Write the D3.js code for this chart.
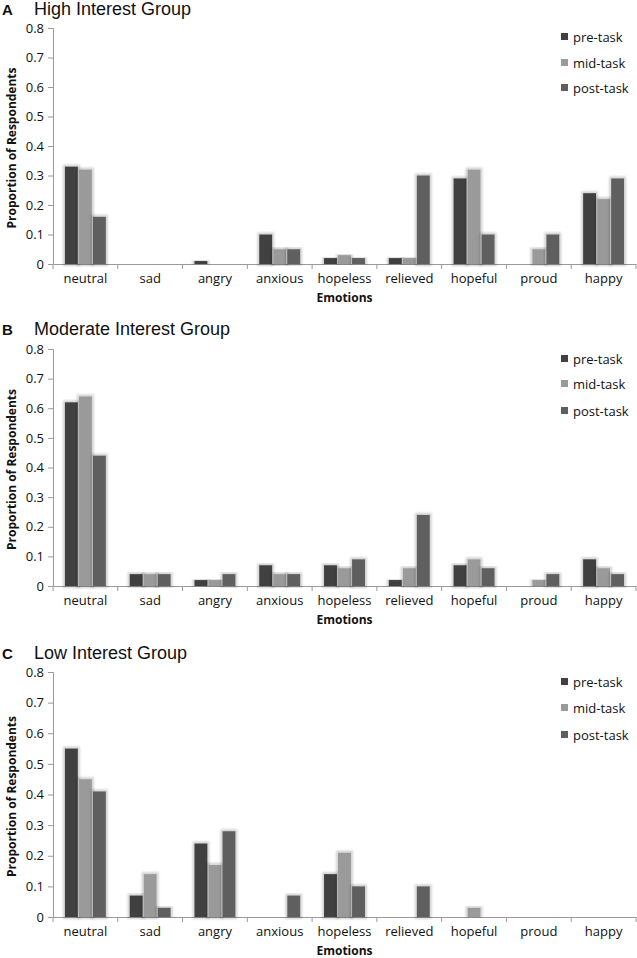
<!DOCTYPE html>
<html>
<head>
<meta charset="utf-8">
<script src="https://cdn.jsdelivr.net/npm/d3@7"></script>
<style>
  body { margin: 0; background: #fff; }
  svg { display: block; }
</style>
</head>
<body>
<svg width="637" height="958"></svg>
<script>
const emotions = ['neutral', 'sad', 'angry', 'anxious', 'hopeless', 'relieved', 'hopeful', 'proud', 'happy']
const phases = ['pre-task', 'mid-task', 'post-task']
const yTicks = [0, 0.1, 0.2, 0.3, 0.4, 0.5, 0.6, 0.7, 0.8]

// values per emotion: [pre, mid, post]
const highInterest = [
  [0.33, 0.32, 0.16], [0, 0, 0], [0.01, 0, 0], [0.10, 0.05, 0.05], [0.02, 0.03, 0.02],
  [0.02, 0.02, 0.30], [0.29, 0.32, 0.10], [0, 0.05, 0.10], [0.24, 0.22, 0.29]
]
const moderateInterest = [
  [0.62, 0.64, 0.44], [0.04, 0.04, 0.04], [0.02, 0.02, 0.04], [0.07, 0.04, 0.04], [0.07, 0.06, 0.09],
  [0.02, 0.06, 0.24], [0.07, 0.09, 0.06], [0, 0.02, 0.04], [0.09, 0.06, 0.04]
]
const lowInterest = [
  [0.55, 0.45, 0.41], [0.07, 0.14, 0.03], [0.24, 0.17, 0.28], [0, 0, 0.07], [0.14, 0.21, 0.10],
  [0, 0, 0.10], [0, 0.03, 0], [0, 0, 0], [0, 0, 0]
]

const colors = ['#404040', '#9a9a9a', '#5e5e5e']

const svg = d3.select('svg')

const defs = svg.append('defs')
const shadow = defs.append('filter').attr('id', 'halo')
  .attr('x', '-30%').attr('y', '-10%').attr('width', '160%').attr('height', '120%')
shadow.append('feMorphology').attr('in', 'SourceAlpha').attr('operator', 'dilate').attr('radius', 1.5).attr('result', 'd')
shadow.append('feGaussianBlur').attr('in', 'd').attr('stdDeviation', 0.8).attr('result', 'b')
shadow.append('feComponentTransfer').attr('in', 'b').attr('result', 's')
  .append('feFuncA').attr('type', 'linear').attr('slope', 0.18)
const merge = shadow.append('feMerge')
merge.append('feMergeNode').attr('in', 's')
merge.append('feMergeNode').attr('in', 'SourceGraphic')

const x0 = 53, x1 = 636

const panels = [
  { letter: 'A', title: 'High Interest Group', data: highInterest, titleY: 15, top: 28, bottom: 264, legendY: [37, 63, 88] },
  { letter: 'B', title: 'Moderate Interest Group', data: moderateInterest, titleY: 335, top: 349, bottom: 586, legendY: [359, 384, 411] },
  { letter: 'C', title: 'Low Interest Group', data: lowInterest, titleY: 659, top: 672, bottom: 917, legendY: [682, 708, 735] }
]

panels.forEach(p => {
  const g = svg.append('g')

  const x = d3.scaleBand().domain(emotions).range([x0, x1]).paddingInner(0).paddingOuter(0)
  const xs = d3.scaleBand().domain(phases).range([0, x.bandwidth()]).paddingInner(0.08).paddingOuter(0.85)
  const y = d3.scaleLinear().domain([0, 0.8]).range([p.bottom, p.top])

  // title
  g.append('text').attr('x', 2).attr('y', p.titleY)
    .attr('font-family', 'Liberation Sans, Arial, sans-serif').attr('font-weight', 'bold')
    .attr('font-size', 15).attr('fill', '#111').text(p.letter)
  g.append('text').attr('x', 34).attr('y', p.titleY)
    .attr('font-family', 'Liberation Sans, Arial, sans-serif')
    .attr('font-size', 18).attr('fill', '#111').text(p.title)

  // y axis
  const yAxis = g.append('g').attr('transform', `translate(${x0},0)`)
    .call(d3.axisLeft(y).tickValues(yTicks).tickSize(5).tickFormat(d => d === 0 ? '0' : d3.format('.1f')(d)))
  yAxis.select('.domain').attr('stroke', '#9a9a9a')
  yAxis.selectAll('.tick line').attr('stroke', '#9a9a9a')
  yAxis.selectAll('.tick text').attr('x', -9)
    .attr('font-family', 'Open Sans, sans-serif').attr('font-size', 13).attr('fill', '#111')

  // x axis
  const xAxis = g.append('g').attr('transform', `translate(0,${p.bottom})`)
    .call(d3.axisBottom(x).tickSize(0).tickPadding(10))
  xAxis.select('.domain').attr('stroke', '#9a9a9a')
  xAxis.selectAll('.tick text')
    .attr('font-family', 'Open Sans, sans-serif').attr('font-size', 13).attr('fill', '#111')
  // category boundary ticks
  g.append('g').selectAll('line')
    .data(emotions.concat(['end']))
    .join('line')
    .attr('x1', (d, i) => i < emotions.length ? x(d) : x1)
    .attr('x2', (d, i) => i < emotions.length ? x(d) : x1)
    .attr('y1', p.bottom).attr('y2', p.bottom + 5)
    .attr('stroke', '#9a9a9a')

  // axis titles
  g.append('text').attr('x', (x0 + x1) / 2).attr('y', p.bottom + 38)
    .attr('text-anchor', 'middle')
    .attr('font-family', 'Open Sans, sans-serif').attr('font-weight', 'bold')
    .attr('font-size', 12).attr('fill', '#111').text('Emotions')
  g.append('text')
    .attr('transform', `translate(16,${(p.top + p.bottom) / 2 + 2}) rotate(-90)`)
    .attr('text-anchor', 'middle')
    .attr('font-family', 'Open Sans, sans-serif').attr('font-weight', 'bold')
    .attr('font-size', 12).attr('fill', '#111').text('Proportion of Respondents')

  // bars
  const groups = g.append('g').selectAll('g')
    .data(p.data)
    .join('g')
    .attr('transform', (d, i) => `translate(${x(emotions[i])},0)`)
  groups.selectAll('rect')
    .data(d => d.map((v, j) => ({ phase: phases[j], v })).filter(e => e.v > 0))
    .join('rect')
    .attr('x', d => xs(d.phase))
    .attr('width', xs.bandwidth())
    .attr('y', d => y(d.v))
    .attr('height', d => y(0) - y(d.v))
    .attr('fill', d => colors[phases.indexOf(d.phase)])
    .attr('filter', 'url(#halo)')

  // legend
  const leg = g.append('g').selectAll('g')
    .data(phases)
    .join('g')
    .attr('transform', (d, i) => `translate(561,${p.legendY[i]})`)
  leg.append('rect').attr('x', 0).attr('y', -4).attr('width', 7).attr('height', 7)
    .attr('fill', (d, i) => colors[i])
  leg.append('text').attr('x', 12).attr('y', 4.5)
    .attr('font-family', 'Open Sans, sans-serif').attr('font-size', 13).attr('fill', '#111')
    .text(d => d)
})
</script>
</body>
</html>
